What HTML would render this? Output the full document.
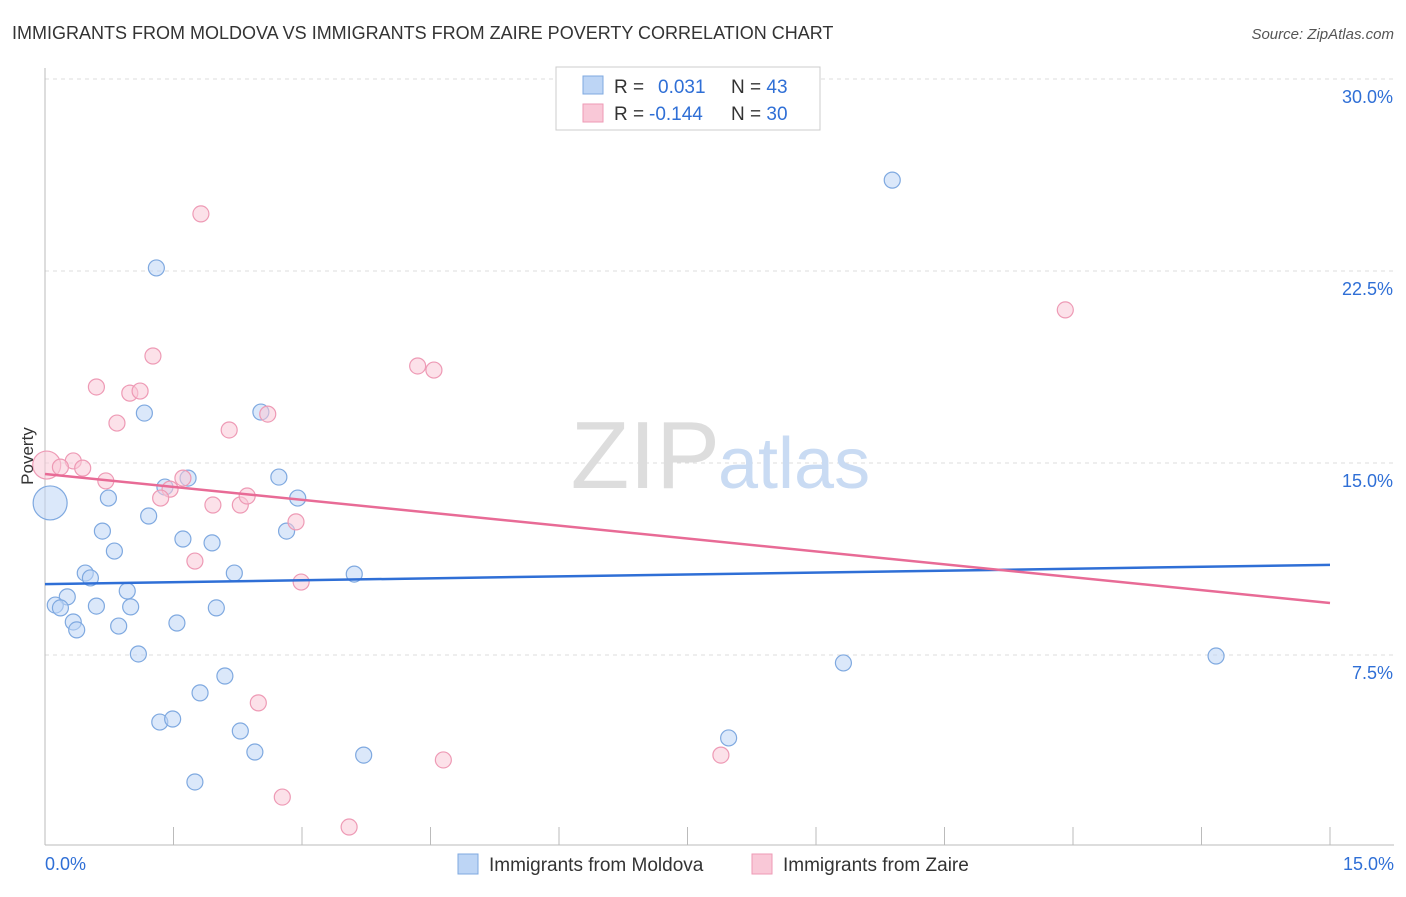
<!DOCTYPE html>
<html><head><meta charset="utf-8"><style>
body{margin:0;background:#fff;font-family:"Liberation Sans",sans-serif;}
svg text{font-family:"Liberation Sans",sans-serif;}
</style></head><body>
<svg id="chart" width="1406" height="892" viewBox="0 0 1406 892">
<text x="12" y="39" font-size="18" fill="#333">IMMIGRANTS FROM MOLDOVA VS IMMIGRANTS FROM ZAIRE POVERTY CORRELATION CHART</text>
<text x="1394" y="39" font-size="15" fill="#555" font-style="italic" text-anchor="end">Source: ZipAtlas.com</text>
<g id="grid"></g>
<text x="720" y="488" font-size="96" fill="#ddd" text-anchor="end" font-family="Liberation Serif,serif">ZIP</text>
<text x="718" y="488" font-size="72" fill="#c9dbf3">atlas</text>
<g id="axes"></g>
<g id="marks"></g>
<text x="33" y="456" font-size="17" fill="#333" text-anchor="middle" transform="rotate(-90 33 456)">Poverty</text>
<g>
<rect x="556" y="67" width="264" height="63" fill="#fff" stroke="#ccc"/>
<rect x="583" y="76" width="20" height="18" fill="#bdd5f5" stroke="#7fa9e0"/>
<rect x="583" y="104" width="20" height="18" fill="#f9c8d7" stroke="#ee9ab5"/>
<text x="614" y="93" font-size="19" fill="#333">R = <tspan fill="#2f6fd6" x="658">0.031</tspan><tspan x="731" fill="#333">N = </tspan><tspan fill="#2f6fd6">43</tspan></text>
<text x="614" y="120" font-size="19" fill="#333">R = <tspan fill="#2f6fd6" x="649">-0.144</tspan><tspan x="731" fill="#333">N = </tspan><tspan fill="#2f6fd6">30</tspan></text>
</g>
<g>
<rect x="458" y="854" width="20" height="20" fill="#bdd5f5" stroke="#7fa9e0"/>
<text x="489" y="871" font-size="19" fill="#333">Immigrants from Moldova</text>
<rect x="752" y="854" width="20" height="20" fill="#f9c8d7" stroke="#ee9ab5"/>
<text x="783" y="871" font-size="19" fill="#333">Immigrants from Zaire</text>
</g>
</svg>
<script>
const yTicks=[7.5,15,22.5,30];
const yTickLabels=["7.5%","15.0%","22.5%","30.0%"];
const xTickLabels=["0.0%","15.0%"];
const moldovaX=[0.06,9.89,1.30,1.16,2.52,2.73,2.95,2.82,1.40,1.67,0.74,0.67,1.21,0.81,1.61,1.95,0.47,0.53,2.21,3.61,0.26,0.12,0.18,0.60,0.96,1.00,0.33,0.37,0.86,1.54,2.00,1.09,2.10,1.81,1.34,1.49,2.28,2.45,3.72,1.75,7.98,9.32,13.67];
const moldovaY=[13.44,26.05,22.62,16.95,16.99,14.45,13.63,12.34,14.06,14.41,13.63,12.34,12.93,11.56,12.03,11.88,10.70,10.51,10.70,10.66,9.77,9.45,9.34,9.41,10.00,9.38,8.79,8.48,8.63,8.75,9.34,7.54,6.68,6.02,4.88,5.00,4.53,3.71,3.59,2.54,4.26,7.19,7.46];
const zaireX=[0.02,1.82,1.26,0.60,0.99,1.11,4.35,4.54,0.84,2.15,2.60,0.33,0.18,0.44,0.71,1.61,1.46,1.35,1.96,2.28,2.36,2.93,1.75,2.99,2.49,4.65,7.89,2.77,3.55,11.91];
const zaireY=[14.92,24.73,19.18,17.97,17.73,17.81,18.79,18.63,16.56,16.29,16.91,15.08,14.84,14.80,14.30,14.41,13.98,13.63,13.36,13.36,13.71,12.70,11.17,10.35,5.63,3.40,3.59,1.95,0.78,20.98];
const moldovaTrend=[10.27,11.02];
const zaireTrend=[14.57,9.53];
const NS="http://www.w3.org/2000/svg";
const X0=45,X1=1330,Y0=847,PPU=25.6;
function sx(v){return X0+(v/15)*(X1-X0);}
function sy(v){return Y0-v*PPU;}
function mk(tag,attrs,parent){const e=document.createElementNS(NS,tag);for(const k in attrs)e.setAttribute(k,attrs[k]);parent.appendChild(e);return e;}
const grid=document.getElementById('grid'),axes=document.getElementById('axes'),marks=document.getElementById('marks');
yTicks.forEach((t,i)=>{
 const l=mk('line',{x1:45,x2:1394,y1:sy(t),y2:sy(t),stroke:'#ddd','stroke-dasharray':'4 4'},grid);
 
 
 const tx=mk('text',{x:1393,y:sy(t)+24,'font-size':18,fill:'#2f6fd6','text-anchor':'end'},axes);
 tx.textContent=yTickLabels[i];
 
 
});
const ya=mk('line',{x1:45,x2:45,y1:68,y2:845,stroke:'#bbb'},axes);


const xa=mk('line',{x1:45,x2:1394,y1:845,y2:845,stroke:'#bbb'},axes);


for(let i=0;i<=10;i++){
 const tk=mk('line',{x1:sx(i*1.5),x2:sx(i*1.5),y1:827,y2:845,stroke:'#bbb'},axes);
 
 
}
const xl0=mk('text',{x:45,y:870,'font-size':18,fill:'#2f6fd6'},axes);
xl0.textContent=xTickLabels[0];


const xl1=mk('text',{x:1394,y:870,'font-size':18,fill:'#2f6fd6','text-anchor':'end'},axes);
xl1.textContent=xTickLabels[1];


function pts(xs,ys,fill,stroke,name,bigR){
 xs.forEach((x,i)=>{
  const c=mk('circle',{cx:sx(x),cy:sy(ys[i]),r:i===0?bigR:8,fill:fill,'fill-opacity':0.55,stroke:stroke,'stroke-width':1.2},marks);
  
  
 });
}
pts(moldovaX,moldovaY,'#bdd5f5','#7fa9e0','point-moldova',17);
pts(zaireX,zaireY,'#f9c8d7','#ee9ab5','point-zaire',14);
const tb=mk('line',{x1:sx(0),x2:sx(15),y1:sy(moldovaTrend[0]),y2:sy(moldovaTrend[1]),stroke:'#2f6fd6','stroke-width':2.5},marks);


const tp=mk('line',{x1:sx(0),x2:sx(15),y1:sy(zaireTrend[0]),y2:sy(zaireTrend[1]),stroke:'#e86b96','stroke-width':2.5},marks);


</script>
</body></html>
